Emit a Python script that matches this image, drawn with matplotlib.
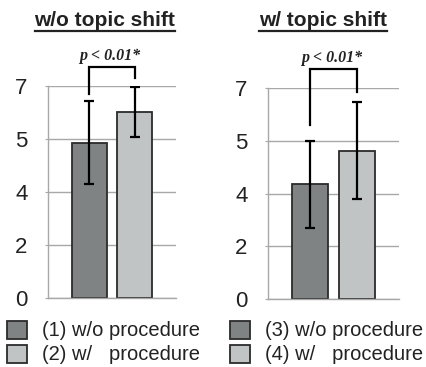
import matplotlib
matplotlib.use('Agg')
import matplotlib.pyplot as plt
from matplotlib.patches import Rectangle
from matplotlib.lines import Line2D

plt.rcParams['font.family'] = ['Liberation Sans', 'DejaVu Sans']

# data
titles = ['w/o topic shift', 'w/ topic shift']
means = [[5.13, 6.15], [3.80, 4.93]]
errs = [[1.37, 0.83], [1.45, 1.60]]
# bracket: (height of bar, left leg end, right leg end)
brackets = [(7.63, 6.72, 7.28), (7.64, 5.78, 6.89)]
p_label = 'p < 0.01*'
tick_pos = [0, 1.75, 3.5, 5.25, 7]
tick_labels = ['0', '2', '4', '5', '7']
legend_labels = [['(1) w/o procedure', '(2) w/   procedure'],
                 ['(3) w/o procedure', '(4) w/   procedure']]
colors = ['#7f8384', '#c1c4c4']
edge = '#2b2b2b'
grid_c = '#a8a8a8'

W, H = 427, 367
fig = plt.figure(figsize=(W / 100, H / 100), dpi=100)


def px(x0, y0, x1, y1):
    # pixel box -> figure fraction rect
    return [x0 / W, 1 - y1 / H, (x1 - x0) / W, (y1 - y0) / H]


ax_boxes = [px(48.3, 86, 175.7, 297.7), px(268.3, 88.3, 399, 298.7)]
title_pos = [(105, 26), (323, 26.5)]
p_pos = [(110, 60), (332, 61.5)]
leg_x = [7, 230]

for i in range(2):
    ax = fig.add_axes(ax_boxes[i])
    ax.set_ylim(0, 7)
    ax.set_xlim(-0.9, 1.9)
    ax.set_yticks(tick_pos)
    ax.set_yticklabels(tick_labels)
    ax.set_xticks([])
    ax.tick_params(axis='y', length=2, color=grid_c, pad=13, labelsize=16,
                   labelcolor='#222222')
    ax.yaxis.grid(True, color=grid_c, lw=1)
    ax.set_axisbelow(True)
    for s in ['top', 'right']:
        ax.spines[s].set_visible(False)
    for s in ['left', 'bottom']:
        ax.spines[s].set_color(grid_c)
        ax.spines[s].set_linewidth(1)
    ax.bar([0, 1], means[i], width=0.77, color=colors, edgecolor=edge, lw=1.3, zorder=2)
    ax.errorbar([0, 1], means[i], yerr=errs[i], fmt='none', ecolor='black',
                elinewidth=1.6, capsize=3.5, capthick=1.6, zorder=3)
    top, l_end, r_end = brackets[i]
    ax.plot([0, 0, 1, 1], [l_end, top, top, r_end], color='black', lw=1.6,
            clip_on=False, solid_joinstyle='miter', zorder=3)

    fig.text(p_pos[i][0] / W, 1 - p_pos[i][1] / H, p_label, ha='center', va='baseline',
             family='Liberation Serif', style='italic', weight='bold', fontsize=11.5,
             color='#222222')
    fig.text(title_pos[i][0] / W, 1 - title_pos[i][1] / H, titles[i], ha='center',
             va='baseline', fontsize=15, weight='bold', color='#222222')

    for j in range(2):
        y = 321 + j * 24
        fig.patches.append(Rectangle(((leg_x[i]) / W, 1 - (y + 18) / H), 20 / W, 18 / H,
                                     transform=fig.transFigure, facecolor=colors[j],
                                     edgecolor=edge, lw=1.3))
        fig.text((leg_x[i] + 35) / W, 1 - (y + 9) / H, legend_labels[i][j],
                 ha='left', va='center', fontsize=14.5, color='#222222')

# underline the titles
fig.canvas.draw()
r = fig.canvas.get_renderer()
for t in fig.texts:
    if t.get_text() in titles:
        bb = t.get_window_extent(renderer=r).transformed(fig.transFigure.inverted())
        yl = bb.y0 - 0.5 / H
        fig.add_artist(Line2D([bb.x0, bb.x1], [yl, yl], transform=fig.transFigure,
                              color='#222222', lw=1.6))

fig.savefig('out.png', dpi=100)
